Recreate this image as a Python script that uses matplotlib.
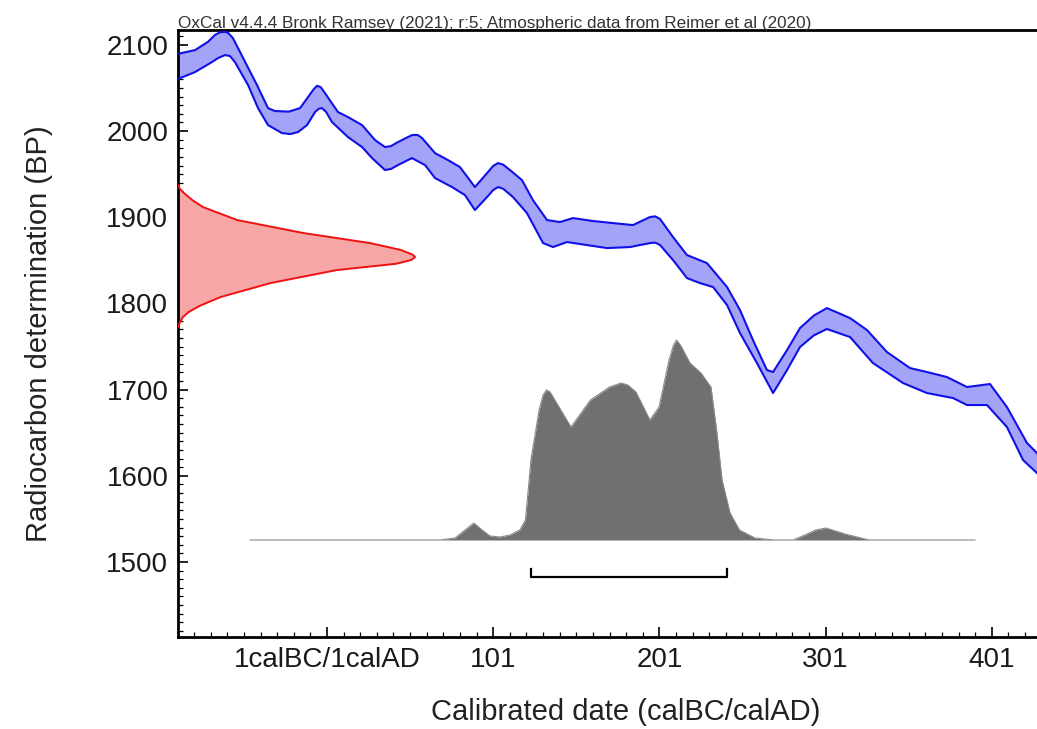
import matplotlib
matplotlib.use('Agg')

import matplotlib.pyplot as plt
import matplotlib.transforms as mtransforms
from matplotlib.ticker import FixedLocator, MultipleLocator
import numpy as np

plt.rcParams['font.family'] = ['Liberation Sans', 'DejaVu Sans']

# ---- calibration curve band (upper / lower edge), calAD year vs BP
curve_hi_year = [-95, -87.4, -78.4, -70.6, -66.4, -63.4, -60.4, -58.6, -55.6, -48.3,
                 -41.1, -34.5, -30.3, -22.0, -15.2, -10.4, -7.0, -5.0, -2.8, -0.2,
                 7.6, 13.6, 22.1, 29.9, 35.9, 39.5, 43.7, 52.1, 55.5, 58.2,
                 66.0, 73.8, 81.0, 90.0, 97.3, 101.0, 103.9, 107.0, 111.1, 118.3,
                 124.9, 133.4, 141.2, 149.0, 161.0, 173.1, 185.1, 195.3, 198.5, 201.4,
                 209.2, 217.6, 229.6, 241.7, 249.5, 257.3, 265.7, 269.4, 277.8, 285.6,
                 294.0, 301.8, 315.7, 325.9, 337.9, 351.8, 362.0, 374.0, 386.1, 399.9,
                 410.1, 422.2, 428.2, 436.0]
curve_hi_bp = [2086, 2090.1, 2093.9, 2103.5, 2111.5, 2114.5, 2115.1, 2114.0, 2107.8, 2080.3,
               2053.3, 2026.6, 2023.2, 2022.5, 2026.6, 2039.4, 2048.5, 2052.5, 2051.0, 2044.0,
               2022.0, 2016.2, 2006.9, 1989.5, 1981.4, 1982.5, 1987.2, 1995.3, 1995.5, 1991.8,
               1974.4, 1966.3, 1958.2, 1935.0, 1951.2, 1959.5, 1962.8, 1961.0, 1954.7, 1943.1,
               1919.9, 1896.7, 1894.4, 1899.0, 1895.6, 1893.2, 1890.9, 1900.2, 1901.0, 1897.9,
               1877.0, 1856.1, 1846.8, 1819.0, 1792.3, 1757.5, 1722.7, 1720.4, 1745.9, 1771.4,
               1786.0, 1794.6, 1783.0, 1769.1, 1743.6, 1725.0, 1720.4, 1714.6, 1703.0, 1706.5,
               1679.8, 1638.0, 1626.4, 1600.9]
curve_lo_year = [-95, -87.4, -78.4, -68.2, -64.6, -60.4, -57.4, -54.4, -46.5, -40.5,
                 -34.5, -26.1, -21.0, -16.4, -11.0, -6.2, -3.8, -2.0, 0.5, 4.0,
                 13.6, 22.1, 28.1, 35.9, 39.5, 43.7, 52.1, 60.0, 66.0, 76.2,
                 84.0, 90.0, 97.3, 101.0, 103.9, 107.0, 112.9, 121.3, 131.0, 137.0,
                 145.4, 157.4, 169.5, 183.3, 195.3, 198.5, 201.4, 209.2, 217.6, 225.4,
                 233.3, 241.7, 249.5, 259.7, 269.4, 277.8, 285.6, 294.0, 301.8, 315.7,
                 329.5, 347.6, 362.0, 377.7, 386.1, 398.1, 410.1, 419.8, 428.2, 436.0]
curve_lo_bp = [2057, 2061.4, 2068.4, 2080.0, 2084.6, 2088.1, 2087.0, 2080.0, 2053.3, 2026.6,
               2006.9, 1997.6, 1996.5, 1998.8, 2006.9, 2022.0, 2026.0, 2026.6, 2022.0, 2010.4,
               1993.0, 1981.4, 1968.6, 1954.7, 1956.0, 1960.5, 1968.6, 1960.5, 1945.4, 1935.0,
               1925.7, 1908.3, 1923.4, 1931.5, 1935.0, 1933.0, 1923.4, 1904.8, 1870.0, 1865.4,
               1871.2, 1867.7, 1864.2, 1865.4, 1870.0, 1870.5, 1867.7, 1850.3, 1829.4, 1823.6,
               1819.0, 1798.1, 1765.6, 1730.8, 1696.0, 1722.7, 1749.4, 1763.0, 1770.3, 1761.0,
               1730.8, 1707.6, 1696.0, 1690.2, 1682.1, 1682.1, 1656.6, 1618.3, 1603.2, 1583.5]

# ---- radiocarbon date (relative probability along the BP axis)
date_bp = [1937.3, 1933.0, 1928.0, 1920.0, 1911.8, 1896.7, 1881.6, 1870.0, 1862.0,
           1856.5, 1853.8, 1850.5, 1846.0, 1838.7, 1823.6, 1807.4, 1797.0, 1790.0,
           1784.0, 1778.0, 1772.6]
date_prob = [0.0, 0.008, 0.025, 0.06, 0.105, 0.25, 0.53, 0.81, 0.94,
             0.99, 1.0, 0.985, 0.92, 0.67, 0.39, 0.18, 0.09, 0.045,
             0.02, 0.008, 0.0]

# ---- calibrated distribution (relative probability along the calendar axis)
cal_year = [-45.3, 69.0, 78.0, 84.0, 89.4, 94.3, 99.1, 105.1, 111.1, 117.0,
            120.4, 123.7, 128.6, 131.0, 133.1, 135.2, 147.8, 159.5, 171.0, 177.9,
            182.0, 186.9, 195.3, 200.8, 206.8, 209.5, 211.3, 214.0, 219.4, 226.0,
            232.0, 235.4, 238.7, 243.5, 249.2, 258.5, 270.0, 281.4, 288.6, 295.0,
            301.2, 307.0, 312.7, 327.1, 390.9]
cal_prob = [0.0, 0.0, 0.01, 0.05, 0.085, 0.05, 0.02, 0.015, 0.025, 0.05,
            0.10, 0.40, 0.65, 0.725, 0.75, 0.74, 0.565, 0.70, 0.765, 0.785,
            0.775, 0.74, 0.60, 0.665, 0.90, 0.975, 1.0, 0.97, 0.885, 0.835,
            0.765, 0.55, 0.30, 0.135, 0.05, 0.01, 0.0, 0.0, 0.025, 0.05,
            0.06, 0.045, 0.03, 0.0, 0.0]

# 95.4% range
range_start, range_end = 123.7, 241.7

x_ticks = [1, 101, 201, 301, 401]
x_ticklabels = ['1calBC/1calAD', '101', '201', '301', '401']
y_ticks = [1500, 1600, 1700, 1800, 1900, 2000, 2100]

fig = plt.figure(figsize=(10.37, 7.29), dpi=100)
ax = fig.add_axes([178 / 1037, 92 / 729, 1 - 178 / 1037, 607 / 729])

# calibration curve band
band_x = curve_hi_year + curve_lo_year[::-1]
band_y = curve_hi_bp + curve_lo_bp[::-1]
ax.fill(band_x, band_y, color='#a3a3f7', lw=0, zorder=2)
for xs, ys in [(curve_hi_year, curve_hi_bp), (curve_lo_year, curve_lo_bp)]:
    ax.plot(xs, ys, color='#1010e8', lw=1.5, solid_joinstyle='round', zorder=3)

# radiocarbon date on the y axis
trans_y = mtransforms.blended_transform_factory(ax.transAxes, ax.transData)
red_w = 0.276
date_x = np.array(date_prob) * red_w
ax.fill(np.concatenate([date_x, [0]]), date_bp + [date_bp[0]],
        color='#f7a6a6', lw=0, transform=trans_y, zorder=2)
ax.plot(date_x, date_bp, color='#ee1111', lw=1.4, solid_joinstyle='round',
        transform=trans_y, zorder=3)

# calibrated distribution along the x axis
trans_x = mtransforms.blended_transform_factory(ax.transData, ax.transAxes)
base, height = 0.1598, 0.3295
cal_y = base + np.array(cal_prob) * height
ax.fill_between(cal_year, base, cal_y, color='#707070', lw=0,
                transform=trans_x, zorder=2)
ax.plot(cal_year, cal_y, color='#8a8a8a', lw=0.8, transform=trans_x, zorder=2)

# range bracket
br_y, br_tick = 0.0988, 0.112
ax.plot([range_start, range_start, range_end, range_end],
        [br_tick, br_y, br_y, br_tick], color='black', lw=1.6,
        transform=trans_x, zorder=4)

ax.set_xlim(-88.65, 428.2)
ax.set_ylim(1413, 2117.2)

ax.xaxis.set_major_locator(FixedLocator(x_ticks))
ax.set_xticklabels(x_ticklabels)
ax.xaxis.set_minor_locator(FixedLocator(np.arange(-89, 430, 10)))
ax.yaxis.set_major_locator(FixedLocator(y_ticks))
ax.yaxis.set_minor_locator(MultipleLocator(10))

ax.tick_params(which='both', direction='in', top=False, right=False,
               width=1.2, colors='black', labelcolor='#1a1a1a')
ax.tick_params(which='major', length=7, labelsize=20, pad=7)
ax.tick_params(which='minor', length=3.5, width=0.9)

for side in ['left', 'bottom', 'top']:
    ax.spines[side].set_linewidth(2.0)
ax.spines['right'].set_visible(False)

ax.set_xlabel('Calibrated date (calBC/calAD)', fontsize=21, color='#222222')
ax.xaxis.set_label_coords(0.5215, -0.1)
ax.set_ylabel('Radiocarbon determination (BP)', fontsize=21, labelpad=38,
              color='#222222')

fig.text(178 / 1037, 1 - 28 / 729,
         'OxCal v4.4.4 Bronk Ramsey (2021); r:5; Atmospheric data from Reimer et al (2020)',
         fontsize=12.3, color='#333333', ha='left', va='baseline')

fig.savefig('out.png', dpi=100)
